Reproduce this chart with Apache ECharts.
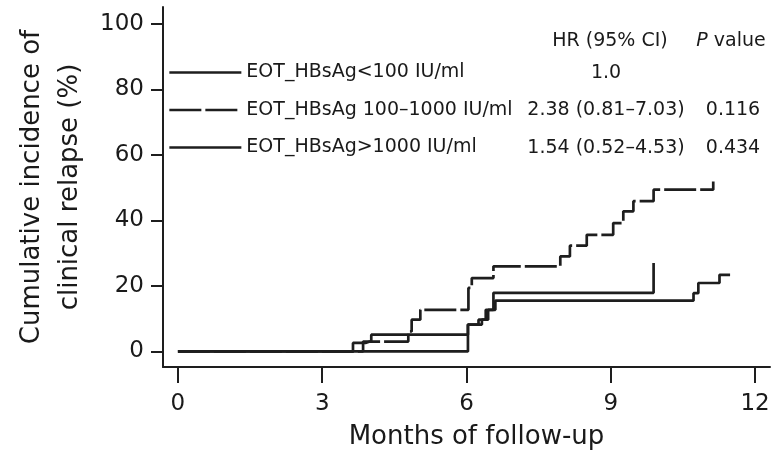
<!DOCTYPE html>
<html><head><meta charset="utf-8">
<script src="https://cdn.jsdelivr.net/npm/echarts@6/dist/echarts.min.js"></script>
<style>html,body{margin:0;padding:0;background:#fff}#c{width:781px;height:453px}</style>
</head><body><div id="c"></div>
<script>
const xTicks = [0, 3, 6, 9, 12];
const yTicks = [0, 20, 40, 60, 80, 100];
const groupNames = ['EOT_HBsAg<100 IU/ml', 'EOT_HBsAg 100–1000 IU/ml', 'EOT_HBsAg>1000 IU/ml'];
const hrHeader = 'HR (95% CI)';
const hrText = ['1.0', '2.38 (0.81–7.03)', '1.54 (0.52–4.53)'];
const pText = ['', '0.116', '0.434'];

const lowMonths = [0, 6.03, 6.25, 6.4, 6.56, 9.89];
const lowValues = [0, 8.2, 9.7, 12.7, 17.9, 27.0];
const midMonths = [0, 3.85, 4.79, 4.86, 5.04, 6.04, 6.11, 6.56, 7.95, 8.15, 8.5, 9.05, 9.26, 9.47, 9.89, 11.13];
const midValues = [0, 3.0, 6.1, 9.7, 12.7, 19.4, 22.4, 26.0, 29.0, 32.3, 35.6, 39.2, 42.8, 45.9, 49.4, 51.9];
const highMonths = [0, 3.64, 3.9, 4.02, 6.03, 6.32, 6.45, 6.6, 10.72, 10.82, 11.26, 11.48];
const highValues = [0, 2.6, 3.2, 5.1, 8.2, 9.7, 12.7, 15.5, 17.8, 20.9, 23.4, 23.4];

const FONT = 'DejaVu Sans';
const INK = '#1a1a1a';
const LINE = '#1e1e1e';
const zip = (a, b) => a.map((v, i) => [v, b[i]]);

const rowY = [73, 110.5, 148];
const graphics = [
  {type: 'text', x: 610, y: 41, style: {text: hrHeader, font: '19px "DejaVu Sans"', fill: INK, align: 'center', verticalAlign: 'middle'}},
  {type: 'text', x: 731, y: 41, style: {text: '{i|P} value', font: '19px "DejaVu Sans"', fill: INK, align: 'center', verticalAlign: 'middle',
    rich: {i: {fontStyle: 'italic', fontFamily: FONT, fontSize: 19, fill: INK}}}}
];
hrText.forEach((t, i) => graphics.push({type: 'text', x: 606, y: rowY[i], style: {text: t, font: '19px "DejaVu Sans"', fill: INK, align: 'center', verticalAlign: 'middle'}}));
pText.forEach((t, i) => graphics.push({type: 'text', x: 733, y: rowY[i], style: {text: t, font: '19px "DejaVu Sans"', fill: INK, align: 'center', verticalAlign: 'middle'}}));

const lineBase = {type: 'line', step: 'end', symbol: 'none', showSymbol: false, silent: true, animation: false};
const option = {
  backgroundColor: '#fff',
  animation: false,
  grid: {left: 163, right: 11, top: 7, bottom: 86, containLabel: false, outerBoundsMode: 'none'},
  legend: {
    orient: 'vertical', left: 168, top: 63, padding: 0,
    itemWidth: 72, itemHeight: 14, itemGap: 18.5, selectedMode: false,
    itemStyle: {opacity: 0},
    lineStyle: {width: 2.7, color: LINE},
    textStyle: {fontFamily: FONT, fontSize: 19, color: INK, padding: [3, 0, 0, 0]},
    data: groupNames
  },
  xAxis: {
    type: 'value', min: -0.31, max: 12.31,
    axisLine: {onZero: false, lineStyle: {color: LINE, width: 2}},
    axisTick: {customValues: xTicks, length: 16, lineStyle: {color: LINE, width: 2}},
    axisLabel: {customValues: xTicks, margin: 26, fontFamily: FONT, fontSize: 23, color: INK},
    splitLine: {show: false},
    name: 'Months of follow-up', nameLocation: 'middle', nameGap: 57,
    nameTextStyle: {fontFamily: FONT, fontSize: 26, color: INK, padding: [0, 0, 0, 20]}
  },
  yAxis: {
    type: 'value', min: -4.76, max: 105.2,
    axisLine: {onZero: false, show: true, lineStyle: {color: LINE, width: 2}},
    axisTick: {show: true, customValues: yTicks, length: 12, lineStyle: {color: LINE, width: 2}},
    axisLabel: {customValues: yTicks, margin: 19, fontFamily: FONT, fontSize: 23, color: INK, padding: [4, 0, 0, 0]},
    splitLine: {show: false},
    name: 'Cumulative incidence of\nclinical relapse (%)', nameLocation: 'middle', nameGap: 60,
    nameTextStyle: {fontFamily: FONT, fontSize: 26, color: INK, lineHeight: 38}
  },
  series: [
    Object.assign({}, lineBase, {name: groupNames[0], data: zip(lowMonths, lowValues),
      lineStyle: {color: LINE, width: 2.7, type: 'solid'}, itemStyle: {color: LINE}}),
    Object.assign({}, lineBase, {name: groupNames[1], data: zip(midMonths, midValues),
      lineStyle: {color: LINE, width: 2.7, type: [32, 4]}, itemStyle: {color: LINE}}),
    Object.assign({}, lineBase, {name: groupNames[2], data: zip(highMonths, highValues),
      lineStyle: {color: LINE, width: 2.7, type: 'solid'}, itemStyle: {color: LINE}})
  ],
  graphic: graphics
};
const chart = echarts.init(document.getElementById('c'), null, {renderer: 'canvas'});
chart.setOption(option);
</script></body></html>
